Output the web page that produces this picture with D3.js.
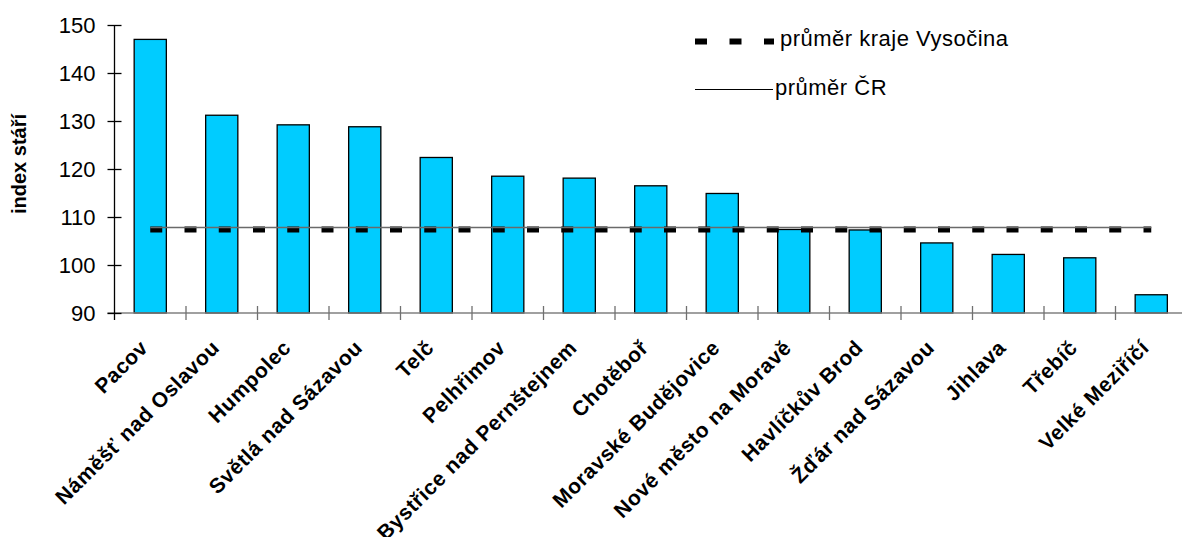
<!DOCTYPE html>
<html>
<head>
<meta charset="utf-8">
<script src="https://cdn.jsdelivr.net/npm/d3@7"></script>
<style>
  html, body { margin: 0; padding: 0; background: #fff; }
  svg { display: block; font-family: Arial, "Liberation Sans", sans-serif; }
</style>
</head>
<body>
<svg id="chart" width="1182" height="537"></svg>
<script>
const categories = ["Pacov", "Náměšť nad Oslavou", "Humpolec", "Světlá nad Sázavou", "Telč", "Pelhřimov",
  "Bystřice nad Pernštejnem", "Chotěboř", "Moravské Budějovice", "Nové město na Moravě",
  "Havlíčkův Brod", "Žďár nad Sázavou", "Jihlava", "Třebíč", "Velké Meziříčí"];
const indexStari = [147.0, 131.2, 129.2, 128.8, 122.4, 118.5, 118.1, 116.5, 114.9, 107.4, 107.3, 104.6, 102.2, 101.5, 93.8];
const prumerKraj = 107.4;
const prumerCR = 107.8;
const yTicks = [90, 100, 110, 120, 130, 140, 150];
const yTitle = "index stáří";
const legendLabels = ["průměr kraje Vysočina", "průměr ČR"];

(function () {
const svg = d3.select("#chart");
const W = 1182, H = 537;
svg.append("rect").attr("width", W).attr("height", H).attr("fill", "#fff");

const pLeft = 114.5, pRight = 1187, pTop = 25, pBottom = 313;
const x = d3.scaleBand().domain(categories).range([pLeft, pRight]).padding(0);
const y = d3.scaleLinear().domain([90, 150]).range([pBottom, pTop]);
const bw = x.bandwidth();
const barW = bw * 0.45;

// bars
svg.append("g").selectAll("rect").data(categories).join("rect")
  .attr("x", (d) => x(d) + (bw - barW) / 2)
  .attr("y", (d, i) => y(indexStari[i]))
  .attr("width", barW)
  .attr("height", (d, i) => y(90) - y(indexStari[i]))
  .attr("fill", "#00CCFF")
  .attr("stroke", "#000")
  .attr("stroke-width", 1.3);

// x axis line + ticks at band boundaries
svg.append("line").attr("x1", pLeft - 7).attr("x2", pRight).attr("y1", pBottom).attr("y2", pBottom)
  .attr("stroke", "#808080").attr("stroke-width", 1.3);
const bounds = categories.map(c => x(c)).concat([pRight]);
svg.append("g").selectAll("line").data(bounds.slice(1)).join("line")
  .attr("x1", d => d).attr("x2", d => d).attr("y1", pBottom - 7).attr("y2", pBottom + 7)
  .attr("stroke", "#707070").attr("stroke-width", 1.3);

// y axis
const yAxis = svg.append("g").attr("transform", `translate(${pLeft},0)`)
  .call(d3.axisLeft(y).tickValues(yTicks).tickSize(7).tickPadding(12).tickSizeOuter(0));
yAxis.select(".domain").remove();
yAxis.selectAll(".tick line").attr("x1", -7).attr("x2", 7).attr("stroke", "#000").attr("stroke-width", 1.3);
yAxis.selectAll(".tick text").attr("font-size", 22).attr("fill", "#000")
  .attr("font-family", "Arial, 'Liberation Sans', sans-serif");
svg.append("line").attr("x1", pLeft).attr("x2", pLeft).attr("y1", pTop).attr("y2", pBottom + 7)
  .attr("stroke", "#000").attr("stroke-width", 1.3);

// y title
svg.append("text").attr("transform", `translate(26,${(pTop + pBottom) / 2 - 5}) rotate(-90)`)
  .attr("text-anchor", "middle").attr("font-size", 20).attr("font-weight", "bold").text(yTitle);

// x labels
svg.append("g").selectAll("text").data(categories).join("text")
  .attr("transform", d => `translate(${x(d) + bw / 2 - 1},${pBottom + 36}) rotate(-45)`)
  .attr("text-anchor", "end").attr("font-size", 21).attr("font-weight", "bold")
  .attr("letter-spacing", 0.6).attr("fill", "#000")
  .text(d => d);

// average lines
const x0 = x(categories[0]) + bw / 2;
const x1 = x(categories[categories.length - 1]) + bw / 2;
svg.append("line").attr("x1", x0).attr("x2", x1).attr("y1", y(prumerKraj)).attr("y2", y(prumerKraj))
  .attr("stroke", "#000").attr("stroke-width", 6).attr("stroke-dasharray", "12,22.25");
svg.append("line").attr("x1", x0).attr("x2", x1).attr("y1", y(prumerCR)).attr("y2", y(prumerCR))
  .attr("stroke", "#6a6a6a").attr("stroke-width", 1.5);

// legend
const lg = svg.append("g");
lg.append("line").attr("x1", 695).attr("x2", 774).attr("y1", 41.5).attr("y2", 41.5)
  .attr("stroke", "#000").attr("stroke-width", 6).attr("stroke-dasharray", "12,22.5");
lg.append("text").attr("x", 780).attr("y", 45.5).attr("font-size", 22).attr("letter-spacing", 0.5)
  .text(legendLabels[0]);
lg.append("line").attr("x1", 695).attr("x2", 773).attr("y1", 89.5).attr("y2", 89.5)
  .attr("stroke", "#000").attr("stroke-width", 1);
lg.append("text").attr("x", 775).attr("y", 95).attr("font-size", 22).attr("letter-spacing", 0.5)
  .text(legendLabels[1]);
})();
</script>
</body>
</html>
